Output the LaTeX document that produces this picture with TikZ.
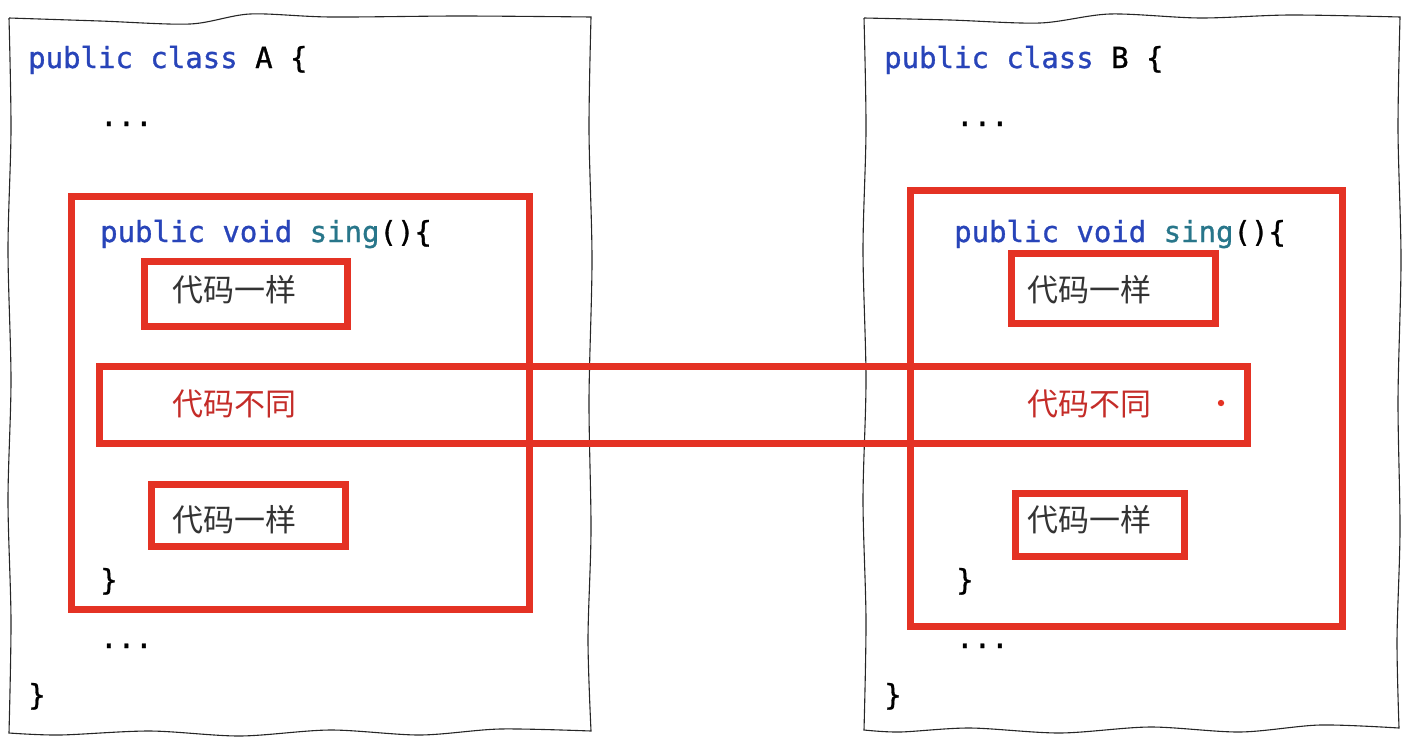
\documentclass[tikz,border=0pt]{standalone}
\usepackage{fontspec}
\usepackage{xcolor}
\usepackage{tikz}
\usetikzlibrary{positioning}
\newfontfamily\codefont[FakeBold=1]{DejaVu Sans Mono}
\newfontfamily\cjk{Noto Sans CJK SC}
\definecolor{kwblue}{RGB}{40,68,185}
\definecolor{fnteal}{RGB}{40,118,138}
\definecolor{boxred}{RGB}{228,50,36}
\definecolor{diffred}{RGB}{196,44,40}

\begin{document}
\begin{tikzpicture}[x=1pt, y=-1pt,
    page/.style={draw=black!85, line width=1.1pt},
    redbox/.style={draw=boxred, line width=7pt, anchor=north west, inner sep=0pt, outer sep=0pt},
    code/.style={anchor=base west, inner sep=0pt, font=\codefont\fontsize{29}{34}\selectfont},
    cn/.style={anchor=west, inner sep=0pt, text=black!80, font=\cjk\fontsize{31}{36}\selectfont}
]
    \useasboundingbox (0,0) rectangle (1420,744);

    % hand drawn sheets
    \draw[page] plot[smooth] coordinates {(9,18) (100,21) (190,24) (250,14) (330,17) (460,16) (591,17)}
        -- plot[smooth] coordinates {(591,17) (589,130) (592,260) (589,400) (591,530) (588,640) (591,731)}
        -- plot[smooth] coordinates {(591,731) (500,729) (420,735) (330,730) (240,736) (150,731) (60,735) (9,733)}
        -- plot[smooth] coordinates {(9,733) (11,620) (8,500) (11,380) (8,250) (11,130) (9,18)};
    \draw[page] plot[smooth] coordinates {(864,18) (950,20) (1040,23) (1110,14) (1200,18) (1290,15) (1400,17)}
        -- plot[smooth] coordinates {(1400,17) (1398,130) (1401,260) (1398,400) (1400,530) (1397,640) (1399,728)}
        -- plot[smooth] coordinates {(1399,728) (1320,725) (1240,732) (1150,727) (1060,733) (970,728) (900,732) (864,730)}
        -- plot[smooth] coordinates {(864,730) (866,620) (863,500) (866,380) (863,250) (866,130) (864,18)};

    % class A
    \node[code] (headA) at (28,68) {{\color{kwblue}public class} A \{};
    \node[code] (dotsA1) at (100,126) {...};
    \node[redbox, minimum width=458pt, minimum height=413pt] (singA) at (71.5,196.5) {};
    \node[code] (sigA) at (100,242) {{\color{kwblue}public void} {\color{fnteal}sing}()\{};
    \node[redbox, minimum width=203pt, minimum height=65pt] (sameA1) at (144.5,261.5) {};
    \node[cn] (txtA1) at (172,290) {代码一样};
    \node[cn, text=diffred] (diffA) at (172,404) {代码不同};
    \node[redbox, minimum width=194pt, minimum height=62pt] (sameA2) at (151.5,484.5) {};
    \node[cn] (txtA2) at (172,520) {代码一样};
    \node[code] (closeSingA) at (100,590) {\}};
    \node[code] (dotsA2) at (100,648) {...};
    \node[code] (closeA) at (28,705) {\}};

    % class B
    \node[code] (headB) at (884,68) {{\color{kwblue}public class} B \{};
    \node[code] (dotsB1) at (956,126) {...};
    \node[redbox, minimum width=432pt, minimum height=436pt] (singB) at (910.5,190.5) {};
    \node[code] (sigB) at (954,242) {{\color{kwblue}public void} {\color{fnteal}sing}()\{};
    \node[redbox, minimum width=204pt, minimum height=70pt] (sameB1) at (1011.5,253.5) {};
    \node[cn] (txtB1) at (1027,290) {代码一样};
    \node[cn, text=diffred] (diffB) at (1027,404) {代码不同};
    \fill[boxred] (1221,403) circle (3.2);
    \node[redbox, minimum width=169pt, minimum height=63pt] (sameB2) at (1015.5,493.5) {};
    \node[cn] (txtB2) at (1027,520) {代码一样};
    \node[code] (closeSingB) at (956,590) {\}};
    \node[code] (dotsB2) at (956,648) {...};
    \node[code] (closeB) at (884,705) {\}};

    % the differing part, across both classes
    \node[redbox, minimum width=1148pt, minimum height=77pt] (diffRow) at (99.5,366.5) {};
\end{tikzpicture}
\end{document}
